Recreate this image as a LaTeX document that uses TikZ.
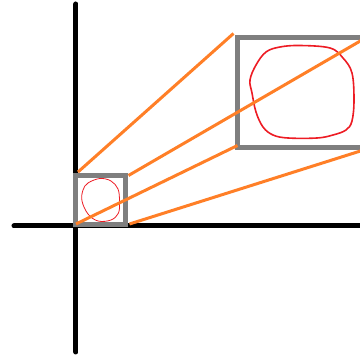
\documentclass[tikz,border=0pt]{standalone}
\definecolor{pgray}{RGB}{127,127,127}
\definecolor{porange}{RGB}{255,127,39}
\definecolor{pred}{RGB}{237,28,36}
\tikzset{
  axis/.style={line width=5pt, line cap=round, black},
  frame/.style={line width=5pt, pgray},
  ray/.style={line width=3pt, porange},
  blob/.style={pred, line join=round},
}
\begin{document}
\begin{tikzpicture}[x=1pt,y=-1pt]
\useasboundingbox (0,0) rectangle (360,358);
% axes
\coordinate (yt) at (76,4);
\coordinate (yb) at (76,352);
\coordinate (xl) at (14,226);
\coordinate (xr) at (362,226);
\draw[axis] (yt) -- (yb);
\draw[axis] (xl) -- (xr);
% small frame
\coordinate (s1) at (75.5,175.5);
\coordinate (s4) at (126,225);
\draw[frame] (s1) rectangle (s4);
% big frame
\coordinate (b1) at (237.5,37.5);
\coordinate (b4) at (372,147.5);
\draw[frame] (b1) rectangle (b4);
% red blobs
\draw[blob, line width=0.8pt] plot[smooth cycle, tension=0.6] coordinates {
  (88,183) (100,178.5) (111,181) (118,189) (119.5,201) (118.5,213)
  (111,220) (98,221) (88,214) (82,201) (83,190)};
\draw[blob, line width=1.6pt] plot[smooth cycle, tension=0.6] coordinates {
  (266,52) (280,47) (300,45.5) (330,48) (343,58) (352,73) (354,100)
  (352,121) (346,130) (333,135) (317,138) (288,138) (273,135)
  (263,127) (256,112) (252,93) (250,80) (256,65)};
% rays
\coordinate (r1a) at (78,172);
\coordinate (r1b) at (233.5,33.5);
\coordinate (r2a) at (128.5,175.5);
\coordinate (r2b) at (362,40);
\coordinate (r3a) at (76,224);
\coordinate (r3b) at (237.5,145.5);
\coordinate (r4a) at (129.5,224);
\coordinate (r4b) at (362,150.5);
\draw[ray] (r1a) -- (r1b);
\draw[ray] (r2a) -- (r2b);
\draw[ray] (r3a) -- (r3b);
\draw[ray] (r4a) -- (r4b);
\end{tikzpicture}
\end{document}
